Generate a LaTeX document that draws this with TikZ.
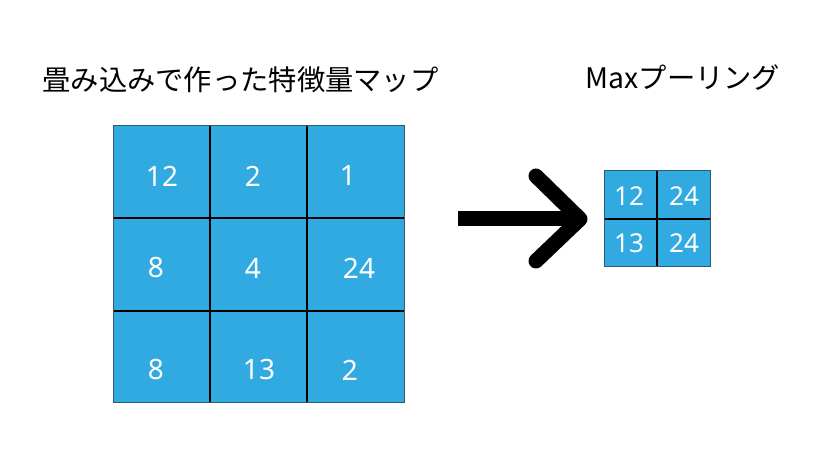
\documentclass[tikz,border=0pt]{standalone}
\usepackage{fontspec}
\setmainfont{Noto Sans CJK JP}
\newfontfamily\numfont{Noto Sans}
\definecolor{cellblue}{HTML}{31AAE2}
\definecolor{edgeslate}{HTML}{2E5A72}
\begin{document}
\begin{tikzpicture}[x=1pt,y=-1pt,
  title/.style={font=\fontsize{28.3}{32}\selectfont, inner sep=0pt, anchor=center},
  bignum/.style={font=\numfont\fontsize{28}{32}\selectfont, text=white, inner sep=0pt},
  smallnum/.style={font=\numfont\fontsize{26}{30}\selectfont, text=white, inner sep=0pt},
  gridline/.style={black, line width=1.2pt},
  arrowline/.style={black, line width=15pt, line cap=round, line join=round}]
\useasboundingbox (0,0) rectangle (828,454);
% titles
\node[title] (t1) at (240.5,80) {畳み込みで作った特徴量マップ};
\node[title] (t2) at (683,78) {Maxプーリング};
% big grid
\fill[cellblue] (113,126) rectangle (404,403);
\draw[gridline] (210,126) -- (210,403);
\draw[gridline] (307,126) -- (307,403);
\draw[gridline] (113,218) -- (404,218);
\draw[gridline] (113,311) -- (404,311);
\draw[edgeslate, line width=1pt] (113,126) rectangle (404,403);
\node[bignum] (a11) at (162,176) {12};
\node[bignum] (a12) at (253,176) {2};
\node[bignum] (a13) at (348,176) {1};
\node[bignum] (a21) at (156,268) {8};
\node[bignum] (a22) at (253,268) {4};
\node[bignum] (a23) at (359,268) {24};
\node[bignum] (a31) at (156,370) {8};
\node[bignum] (a32) at (259,370) {13};
\node[bignum] (a33) at (350,370) {2};
% small grid
\fill[cellblue] (604,171) rectangle (710,267);
\draw[gridline] (657,171) -- (657,267);
\draw[gridline] (604,219) -- (710,219);
\draw[edgeslate, line width=1pt] (604,171) rectangle (710,267);
\node[smallnum] (b11) at (629,196) {12};
\node[smallnum] (b12) at (684,196) {24};
\node[smallnum] (b21) at (629,243) {13};
\node[smallnum] (b22) at (684,243) {24};
% arrow
\coordinate (as) at (458,219);
\coordinate (ae) at (580,219);
\coordinate (au) at (536,176);
\coordinate (ad) at (536,261);
\draw[black, line width=15pt] (as) -- (ae);
\draw[arrowline] (au) -- (ae) -- (ad);
\end{tikzpicture}
\end{document}
